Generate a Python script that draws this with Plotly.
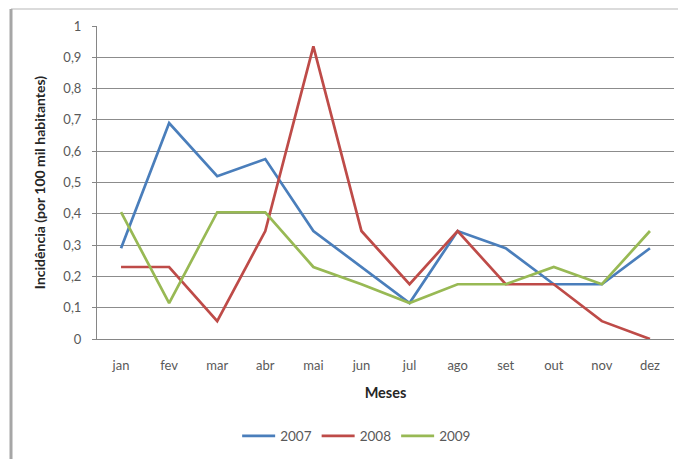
import plotly.graph_objects as go

meses = ["jan", "fev", "mar", "abr", "mai", "jun", "jul", "ago", "set", "out", "nov", "dez"]
inc_2007 = [0.29, 0.69, 0.52, 0.575, 0.345, 0.23, 0.115, 0.345, 0.29, 0.175, 0.175, 0.29]
inc_2008 = [0.23, 0.23, 0.057, 0.345, 0.935, 0.345, 0.175, 0.345, 0.175, 0.175, 0.057, 0.0]
inc_2009 = [0.405, 0.115, 0.405, 0.405, 0.23, 0.175, 0.115, 0.175, 0.175, 0.23, 0.175, 0.345]

W, H = 678, 459
L, R, T, B = 97, 4, 26, 120
FONT = "Lato"
TXT = "#595959"

fig = go.Figure()
for name, vals, color in [
    ("2007", inc_2007, "#4a7ebb"),
    ("2008", inc_2008, "#be4b48"),
    ("2009", inc_2009, "#98b954"),
]:
    fig.add_trace(go.Scatter(x=meses, y=vals, name=name, mode="lines",
                             line=dict(color=color, width=2.7)))

def px_x(px):
    return (px - L) / (W - L - R)

def px_y(py):
    return 1 - (py - T) / (H - T - B)

# chart frame: top rule and left edge
fig.add_shape(type="line", xref="paper", yref="paper",
              x0=px_x(11), x1=px_x(678), y0=px_y(9), y1=px_y(9),
              line=dict(color="#cfcfcf", width=1.5))
fig.add_shape(type="line", xref="paper", yref="paper",
              x0=px_x(11), x1=px_x(11), y0=px_y(9), y1=px_y(459),
              line=dict(color="#a6a6a6", width=3))

fig.update_layout(
    width=W, height=H,
    margin=dict(l=L, r=R, t=T, b=B),
    paper_bgcolor="white", plot_bgcolor="white",
    separators=", ",
    font=dict(family=FONT, size=12, color=TXT),
    showlegend=True,
    legend=dict(orientation="h", x=0.45, xanchor="center", y=-0.31, yanchor="middle",
                font=dict(size=13.5, color=TXT), itemwidth=33, traceorder="normal"),
    xaxis=dict(
        type="category", range=[-0.5, 11.5],
        showgrid=False, showline=True, linecolor="#868686", linewidth=1,
        ticks="", tickfont=dict(size=13, color=TXT),
        ticklabelstandoff=14,
        title=dict(text="<b>Meses</b>", font=dict(size=14.5, color="#262626"), standoff=16),
    ),
    yaxis=dict(
        range=[0, 1], dtick=0.1, tick0=0, tickformat="~g",
        showgrid=True, gridcolor="#8c8c8c", gridwidth=1,
        showline=True, linecolor="#868686", linewidth=1,
        ticks="outside", ticklen=4, tickcolor="#868686",
        tickfont=dict(size=13, color=TXT),
        ticklabelstandoff=8,
        zeroline=False,
        title=dict(text="<b>Incidência (por 100 mil habitantes)</b>",
                   font=dict(size=14, color="#262626"), standoff=14),
    ),
)

fig.write_html("out.html")
